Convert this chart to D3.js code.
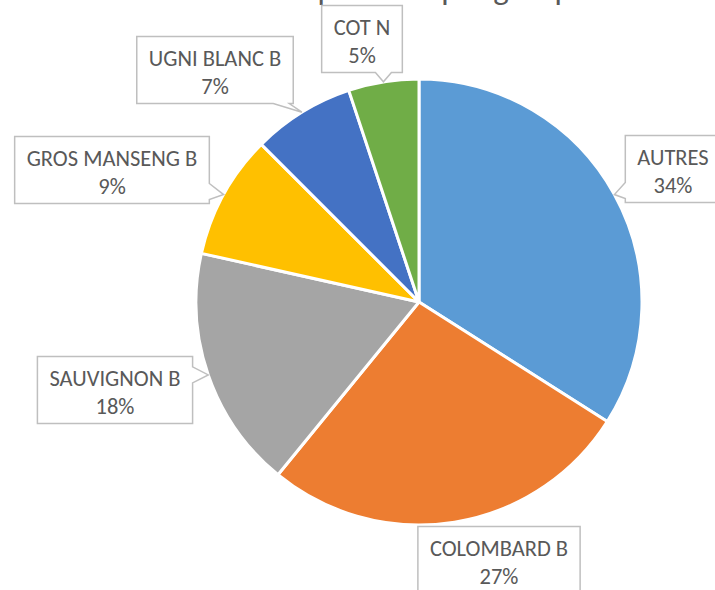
<!DOCTYPE html>
<html>
<head>
<meta charset="utf-8">
<script src="https://cdn.jsdelivr.net/npm/d3@7"></script>
<style>
  body { margin: 0; background: #fff; }
  text { font-family: Calibri, Carlito, Lato, sans-serif; }
</style>
</head>
<body>
<div id="pie-container"></div>
<script>
// chart data
const categories = ['AUTRES', 'COLOMBARD B', 'SAUVIGNON B', 'GROS MANSENG B', 'UGNI BLANC B', 'COT N'];
const shares = [34.0, 26.9, 17.6, 9.0, 7.4, 5.1];
const title = 'Répartition par groupe';

const colors = ['#5B9BD5', '#ED7D31', '#A5A5A5', '#FFC000', '#4472C4', '#70AD47'];

// callout box centres, relative to the pie centre
const labelOffsets = [
  [254, -133], [80, 258], [-304, 88], [-307, -132], [-204, -232], [-57, -263]
];

const width = 715, height = 590;
const cx = 419, cy = 302, outerRadius = 223;
const boxH = 67;
const fontSize = '22.5px';

const svg = d3.select('#pie-container')
  .append('svg')
  .attr('width', width)
  .attr('height', height);

// title sits above the visible area, only its descenders show
svg.append('text')
  .attr('x', 436)
  .attr('y', 0)
  .attr('text-anchor', 'middle')
  .style('font-size', '33px')
  .style('fill', '#595959')
  .text(title);

const g = svg.append('g').attr('transform', `translate(${cx}, ${cy})`);

const data = categories.map((c, i) => ({ name: c, value: shares[i], i }));
const total = d3.sum(shares);

const pieGenerator = d3.pie().sort(null).value(d => d.value);
const arcGenerator = d3.arc().innerRadius(0).outerRadius(outerRadius);
const arcs = pieGenerator(data);

g.selectAll('path.slice')
  .data(arcs)
  .enter()
  .append('path')
  .attr('class', 'slice')
  .attr('d', arcGenerator)
  .style('fill', d => colors[d.data.i])
  .style('stroke', '#ffffff')
  .style('stroke-width', 3)
  .style('stroke-linejoin', 'round');

// callouts
const labels = g.selectAll('g.label')
  .data(arcs)
  .enter()
  .append('g')
  .attr('class', 'label');

labels.each(function (d) {
  const sel = d3.select(this);
  const [ox, oy] = labelOffsets[d.data.i];
  const pct = Math.round(d.data.value / total * 100) + '%';

  const shape = sel.append('path');
  const t1 = sel.append('text')
    .attr('x', ox).attr('y', oy - boxH / 2 + 29)
    .attr('text-anchor', 'middle')
    .style('font-size', fontSize).style('fill', '#595959')
    .text(d.data.name);
  sel.append('text')
    .attr('x', ox).attr('y', oy - boxH / 2 + 57)
    .attr('text-anchor', 'middle')
    .style('font-size', fontSize).style('fill', '#595959')
    .text(pct);

  const w = t1.node().getComputedTextLength() + 24;
  const x0 = ox - w / 2, x1 = ox + w / 2, y0 = oy - boxH / 2, y1 = oy + boxH / 2;

  // pointer tip on the outer edge at the slice middle
  const mid = (d.startAngle + d.endAngle) / 2;
  const tx = Math.sin(mid) * outerRadius, ty = -Math.cos(mid) * outerRadius;

  const outX = tx > x1 ? tx - x1 : (tx < x0 ? x0 - tx : 0);
  const outY = ty > y1 ? ty - y1 : (ty < y0 ? y0 - ty : 0);
  const clamp = (v, a, b) => Math.max(a, Math.min(b, v));
  let pts = [[x0, y0], [x1, y0], [x1, y1], [x0, y1]];
  const hw = 8;
  if (Math.max(outX, outY) > 6) {
    if (outX >= outY) {
      const c = clamp(ty, y0 + hw + 4, y1 - hw - 4);
      if (tx > x1) pts = [[x0, y0], [x1, y0], [x1, c - hw], [tx, ty], [x1, c + hw], [x1, y1], [x0, y1]];
      else pts = [[x0, y0], [x1, y0], [x1, y1], [x0, y1], [x0, c + hw], [tx, ty], [x0, c - hw]];
    } else {
      const c = clamp(tx, x0 + hw + 4, x1 - hw - 4);
      if (ty > y1) pts = [[x0, y0], [x1, y0], [x1, y1], [c + hw, y1], [tx, ty], [c - hw, y1], [x0, y1]];
      else pts = [[x0, y0], [c - hw, y0], [tx, ty], [c + hw, y0], [x1, y0], [x1, y1], [x0, y1]];
    }
  }
  shape.attr('d', d3.line()(pts) + 'Z')
    .style('fill', '#ffffff')
    .style('stroke', '#BFBFBF')
    .style('stroke-width', 1.5);
});
</script>
</body>
</html>
